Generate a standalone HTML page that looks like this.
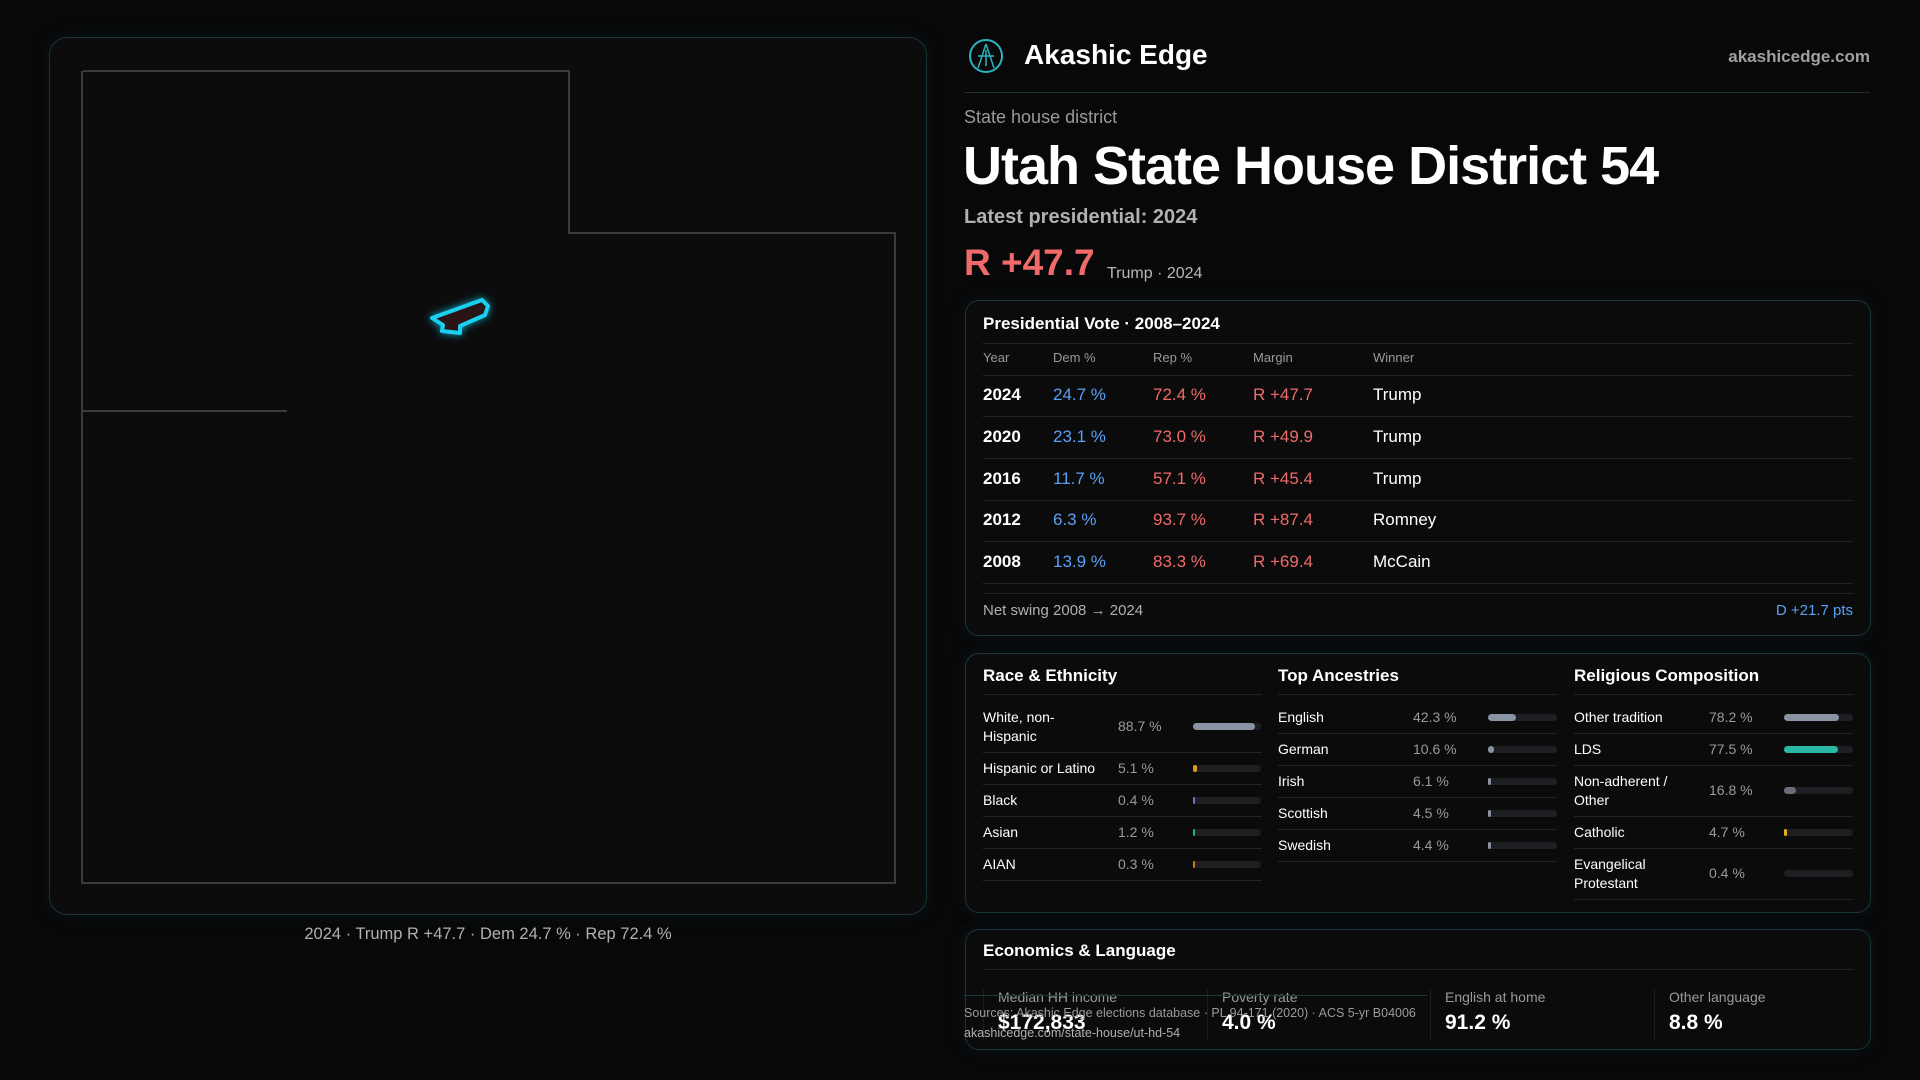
<!DOCTYPE html>
<html><head><meta charset="utf-8"><style>
*{margin:0;padding:0;box-sizing:border-box}
body{width:1920px;height:1080px;background:#080809;font-family:"Liberation Sans",sans-serif;color:#fff;position:relative;overflow:hidden}
.a{position:absolute;white-space:nowrap}
.card{position:absolute;background:#0b0b0c;border:1.5px solid #15363b;border-radius:14px;box-shadow:0 0 18px rgba(30,110,120,0.12)}
.hl{position:absolute;height:1px;background:#222426}
.g{color:#9a9a9a}.b{color:#5aa0f5}.r{color:#f06a6a}
.bar{position:absolute;height:7px;border-radius:4px;background:#1d1f22}
.bar i{position:absolute;left:0;top:0;height:7px;border-radius:4px}
</style></head><body>
<div class="card" style="left:49px;top:37px;width:878px;height:878px;border-radius:18px;background:#0c0c0d"></div>
<svg class="a" style="left:0;top:0" width="960" height="960">
<polyline points="83,71 569,71 569,233 895,233 895,883 82,883 82,71" fill="none" stroke="#3a3a3c" stroke-width="2"/>
<line x1="82" y1="411" x2="287" y2="411" stroke="#3a3a3c" stroke-width="2"/>
<polygon points="432,318 482,300 488,306 485,315 460,326 460,333 442,331 443,325" fill="#2a1416" stroke="#1ad0ee" stroke-width="4" stroke-linejoin="round" style="filter:drop-shadow(0 0 4px #0aa6c0)"/>
</svg>
<div class="a" style="left:0;width:976px;text-align:center;top:925px;font-size:16.5px;color:#b0b0b0">2024 · Trump R +47.7 · Dem 24.7 % · Rep 72.4 %</div>

<svg class="a" style="left:968px;top:38px" width="36" height="36"><circle cx="18" cy="18" r="16" fill="none" stroke="#2ab5c0" stroke-width="2"/><path d="M18 6 L10 30 M18 6 L26 30 M10 18 L26 18 M18 12 L18 28" stroke="#2ab5c0" stroke-width="1.5" fill="none"/></svg>
<div class="a" style="left:1024px;top:39px;font-size:28px;font-weight:bold">Akashic Edge</div>
<div class="a" style="right:50px;top:47px;font-size:17px;color:#a0a0a0;font-weight:bold">akashicedge.com</div>
<div class="hl" style="left:964px;width:906px;top:92px;background:#1c3033"></div>
<div class="a g" style="left:964px;top:107px;font-size:18px">State house district</div>
<div class="a" style="left:963px;top:135px;font-size:54px;font-weight:bold;letter-spacing:-1px">Utah State House District 54</div>
<div class="a" style="left:964px;top:206px;font-size:20px;color:#b0b0b0;font-weight:bold">Latest presidential: 2024</div>
<div class="a r" style="left:964px;top:242px;font-size:37px;font-weight:bold">R +47.7</div>
<div class="a" style="left:1107px;top:265px;font-size:16px;color:#b8b8b8">Trump · 2024</div>

<div class="card" style="left:965px;top:300px;width:906px;height:336px"></div>
<div class="a" style="left:983px;top:314px;font-size:17px;font-weight:bold">Presidential Vote · 2008–2024</div>
<div class="hl" style="left:983px;width:870px;top:343px"></div>
<div class="a g" style="left:983px;top:350px;font-size:13px">Year</div>
<div class="a g" style="left:1053px;top:350px;font-size:13px">Dem %</div>
<div class="a g" style="left:1153px;top:350px;font-size:13px">Rep %</div>
<div class="a g" style="left:1253px;top:350px;font-size:13px">Margin</div>
<div class="a g" style="left:1373px;top:350px;font-size:13px">Winner</div>
<div class="hl" style="left:983px;width:870px;top:375px"></div>
<div class="hl" style="left:983px;width:870px;top:416px"></div>
<div class="hl" style="left:983px;width:870px;top:458px"></div>
<div class="hl" style="left:983px;width:870px;top:500px"></div>
<div class="hl" style="left:983px;width:870px;top:541px"></div>
<div class="hl" style="left:983px;width:870px;top:583px"></div>
<div class="hl" style="left:983px;width:870px;top:593px"></div>
<div style="font-size:17px">
<div class="a" style="left:983px;top:385px;font-weight:bold">2024</div><div class="a b" style="left:1053px;top:385px">24.7 %</div><div class="a r" style="left:1153px;top:385px">72.4 %</div><div class="a r" style="left:1253px;top:385px">R +47.7</div><div class="a" style="left:1373px;top:385px">Trump</div>
<div class="a" style="left:983px;top:427px;font-weight:bold">2020</div><div class="a b" style="left:1053px;top:427px">23.1 %</div><div class="a r" style="left:1153px;top:427px">73.0 %</div><div class="a r" style="left:1253px;top:427px">R +49.9</div><div class="a" style="left:1373px;top:427px">Trump</div>
<div class="a" style="left:983px;top:469px;font-weight:bold">2016</div><div class="a b" style="left:1053px;top:469px">11.7 %</div><div class="a r" style="left:1153px;top:469px">57.1 %</div><div class="a r" style="left:1253px;top:469px">R +45.4</div><div class="a" style="left:1373px;top:469px">Trump</div>
<div class="a" style="left:983px;top:510px;font-weight:bold">2012</div><div class="a b" style="left:1053px;top:510px">6.3 %</div><div class="a r" style="left:1153px;top:510px">93.7 %</div><div class="a r" style="left:1253px;top:510px">R +87.4</div><div class="a" style="left:1373px;top:510px">Romney</div>
<div class="a" style="left:983px;top:552px;font-weight:bold">2008</div><div class="a b" style="left:1053px;top:552px">13.9 %</div><div class="a r" style="left:1153px;top:552px">83.3 %</div><div class="a r" style="left:1253px;top:552px">R +69.4</div><div class="a" style="left:1373px;top:552px">McCain</div>
</div>
<div class="a" style="left:983px;top:602px;font-size:15px;color:#b0b0b0">Net swing 2008 → 2024</div>
<div class="a b" style="right:67px;top:602px;font-size:15px">D +21.7 pts</div>

<div class="card" style="left:965px;top:653px;width:906px;height:260px"></div>
<div style="font-size:14px">
<div class="a" style="left:983px;top:666px;font-size:17px;font-weight:bold">Race &amp; Ethnicity</div>
<div class="a" style="left:1278px;top:666px;font-size:17px;font-weight:bold">Top Ancestries</div>
<div class="a" style="left:1574px;top:666px;font-size:17px;font-weight:bold">Religious Composition</div>
<div class="hl" style="left:983px;width:279px;top:694px"></div><div class="hl" style="left:1278px;width:279px;top:694px"></div><div class="hl" style="left:1574px;width:279px;top:694px"></div>

<div class="a" style="left:983px;top:708px;line-height:19px">White, non-<br>Hispanic</div><div class="a g" style="left:1118px;top:718px">88.7 %</div><div class="bar" style="left:1193px;top:723px;width:68px"><i style="width:62px;background:#8a93a3"></i></div>
<div class="a" style="left:983px;top:760px">Hispanic or Latino</div><div class="a g" style="left:1118px;top:760px">5.1 %</div><div class="bar" style="left:1193px;top:765px;width:68px"><i style="width:4px;background:#e09a20"></i></div>
<div class="a" style="left:983px;top:792px">Black</div><div class="a g" style="left:1118px;top:792px">0.4 %</div><div class="bar" style="left:1193px;top:797px;width:68px"><i style="width:2px;background:#7a6ad0"></i></div>
<div class="a" style="left:983px;top:824px">Asian</div><div class="a g" style="left:1118px;top:824px">1.2 %</div><div class="bar" style="left:1193px;top:829px;width:68px"><i style="width:2px;background:#20b090"></i></div>
<div class="a" style="left:983px;top:856px">AIAN</div><div class="a g" style="left:1118px;top:856px">0.3 %</div><div class="bar" style="left:1193px;top:861px;width:68px"><i style="width:2px;background:#d07a20"></i></div>
<div class="hl" style="left:983px;width:279px;top:752px"></div><div class="hl" style="left:983px;width:279px;top:784px"></div><div class="hl" style="left:983px;width:279px;top:816px"></div><div class="hl" style="left:983px;width:279px;top:848px"></div><div class="hl" style="left:983px;width:279px;top:880px"></div>

<div class="a" style="left:1278px;top:709px">English</div><div class="a g" style="left:1413px;top:709px">42.3 %</div><div class="bar" style="left:1488px;top:714px;width:69px"><i style="width:28px;background:#8a93a3"></i></div>
<div class="a" style="left:1278px;top:741px">German</div><div class="a g" style="left:1413px;top:741px">10.6 %</div><div class="bar" style="left:1488px;top:746px;width:69px"><i style="width:6px;background:#8a93a3"></i></div>
<div class="a" style="left:1278px;top:773px">Irish</div><div class="a g" style="left:1413px;top:773px">6.1 %</div><div class="bar" style="left:1488px;top:778px;width:69px"><i style="width:3px;background:#8a93a3"></i></div>
<div class="a" style="left:1278px;top:805px">Scottish</div><div class="a g" style="left:1413px;top:805px">4.5 %</div><div class="bar" style="left:1488px;top:810px;width:69px"><i style="width:3px;background:#8a93a3"></i></div>
<div class="a" style="left:1278px;top:837px">Swedish</div><div class="a g" style="left:1413px;top:837px">4.4 %</div><div class="bar" style="left:1488px;top:842px;width:69px"><i style="width:3px;background:#8a93a3"></i></div>
<div class="hl" style="left:1278px;width:279px;top:733px"></div><div class="hl" style="left:1278px;width:279px;top:765px"></div><div class="hl" style="left:1278px;width:279px;top:797px"></div><div class="hl" style="left:1278px;width:279px;top:829px"></div><div class="hl" style="left:1278px;width:279px;top:861px"></div>

<div class="a" style="left:1574px;top:709px">Other tradition</div><div class="a g" style="left:1709px;top:709px">78.2 %</div><div class="bar" style="left:1784px;top:714px;width:69px"><i style="width:55px;background:#8a93a3"></i></div>
<div class="a" style="left:1574px;top:741px">LDS</div><div class="a g" style="left:1709px;top:741px">77.5 %</div><div class="bar" style="left:1784px;top:746px;width:69px"><i style="width:54px;background:#28b8a4"></i></div>
<div class="a" style="left:1574px;top:772px;line-height:19px">Non-adherent /<br>Other</div><div class="a g" style="left:1709px;top:782px">16.8 %</div><div class="bar" style="left:1784px;top:787px;width:69px"><i style="width:12px;background:#6a6e78"></i></div>
<div class="a" style="left:1574px;top:824px">Catholic</div><div class="a g" style="left:1709px;top:824px">4.7 %</div><div class="bar" style="left:1784px;top:829px;width:69px"><i style="width:3px;background:#e0b020"></i></div>
<div class="a" style="left:1574px;top:855px;line-height:19px">Evangelical<br>Protestant</div><div class="a g" style="left:1709px;top:865px">0.4 %</div><div class="bar" style="left:1784px;top:870px;width:69px"></div>
<div class="hl" style="left:1574px;width:279px;top:733px"></div><div class="hl" style="left:1574px;width:279px;top:765px"></div><div class="hl" style="left:1574px;width:279px;top:816px"></div><div class="hl" style="left:1574px;width:279px;top:848px"></div><div class="hl" style="left:1574px;width:279px;top:899px"></div>
</div>

<div class="card" style="left:965px;top:929px;width:906px;height:121px"></div>
<div class="a" style="left:983px;top:941px;font-size:17px;font-weight:bold">Economics &amp; Language</div>
<div class="hl" style="left:983px;width:870px;top:969px"></div>
<div class="a" style="left:983px;top:989px;width:1px;height:50px;background:#1c1e20"></div>
<div class="a" style="left:1207px;top:989px;width:1px;height:50px;background:#1c1e20"></div>
<div class="a" style="left:1430px;top:989px;width:1px;height:50px;background:#1c1e20"></div>
<div class="a" style="left:1654px;top:989px;width:1px;height:50px;background:#1c1e20"></div>
<div class="a g" style="left:998px;top:989px;font-size:14px">Median HH income</div><div class="a" style="left:998px;top:1011px;font-size:21px;font-weight:bold">$172,833</div>
<div class="a g" style="left:1222px;top:989px;font-size:14px">Poverty rate</div><div class="a" style="left:1222px;top:1011px;font-size:21px;font-weight:bold">4.0 %</div>
<div class="a g" style="left:1445px;top:989px;font-size:14px">English at home</div><div class="a" style="left:1445px;top:1011px;font-size:21px;font-weight:bold">91.2 %</div>
<div class="a g" style="left:1669px;top:989px;font-size:14px">Other language</div><div class="a" style="left:1669px;top:1011px;font-size:21px;font-weight:bold">8.8 %</div>
<div class="hl" style="left:964px;width:463px;top:995px;background:#1c3a3e"></div>
<div class="a" style="left:964px;top:1006px;font-size:12.5px;color:#9a9a9a">Sources: Akashic Edge elections database · PL 94-171 (2020) · ACS 5-yr B04006</div>
<div class="a" style="left:964px;top:1026px;font-size:12.5px;color:#b0b0b0">akashicedge.com/state-house/ut-hd-54</div>
</body></html>
